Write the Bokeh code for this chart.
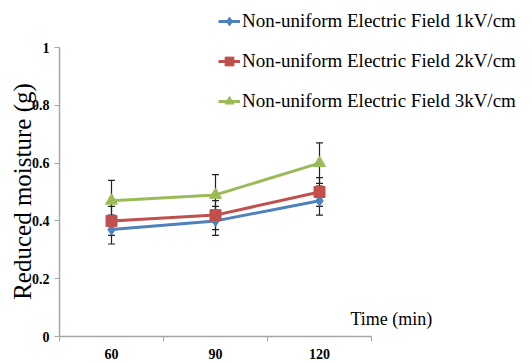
from math import pi
from bokeh.plotting import figure
from bokeh.models import (Range1d, FixedTicker, Label, Legend, LegendItem,
                          ColumnDataSource, Whisker, TeeHead, LinearAxis)
from bokeh.embed import file_html
from bokeh.resources import INLINE

# ---- data ----
times = ["60", "90", "120"]
field_1kv = [0.37, 0.40, 0.47]
field_2kv = [0.40, 0.42, 0.50]
field_3kv = [0.47, 0.49, 0.60]
err_1kv = [0.05, 0.05, 0.05]
err_2kv = [0.05, 0.05, 0.05]
err_3kv = [0.07, 0.07, 0.07]
series_names = ["Non-uniform Electric Field 1kV/cm",
                "Non-uniform Electric Field 2kV/cm",
                "Non-uniform Electric Field 3kV/cm"]
y_ticks = [0, 0.2, 0.4, 0.6, 0.8, 1.0]

colors = ["#4F81BD", "#C0504D", "#9BBB59"]
markers = ["diamond", "square", "triangle"]
sizes = [11, 11, 12]

W, H = 532, 363
# plot-area placement in pixels
PL, PR, PT, PB = 59, 371, 47, 336
ncat = len(times)
px_x = (PR - PL) / ncat
px_y = (PB - PT) / 1.0

xs = [i + 0.5 for i in range(ncat)]

p = figure(width=W, height=H, output_backend="svg", toolbar_location=None,
           x_range=Range1d(-PL / px_x, ncat + (W - PR) / px_x),
           y_range=Range1d(-(H - PB) / px_y, 1 + PT / px_y),
           x_axis_location=None, y_axis_location=None,
           min_border=0)
p.outline_line_color = None
p.xgrid.visible = False
p.ygrid.visible = False
p.background_fill_color = "white"
p.border_fill_color = "white"

axis_color = "#A6A6A6"
FONT = "Liberation Serif"
QFONT = "'Liberation Serif', serif"

xaxis = LinearAxis(fixed_location=0, bounds=(0, ncat))
xaxis.ticker = FixedTicker(ticks=xs, minor_ticks=list(range(ncat + 1)))
xaxis.major_label_overrides = {x: t for x, t in zip(xs, times)}
xaxis.major_tick_out = 0
xaxis.major_tick_in = 0
xaxis.minor_tick_out = 5
xaxis.minor_tick_in = 0
xaxis.minor_tick_line_color = axis_color
xaxis.axis_line_color = axis_color
xaxis.axis_line_width = 1.5
xaxis.major_label_text_font = QFONT
xaxis.major_label_text_font_style = "bold"
xaxis.major_label_text_font_size = "14px"
xaxis.major_label_text_color = "black"
xaxis.major_label_standoff = 7
p.add_layout(xaxis, "below")

yaxis = LinearAxis(fixed_location=0, bounds=(0, 1))
yaxis.ticker = FixedTicker(ticks=y_ticks, minor_ticks=[])
yaxis.major_label_overrides = {0: "0", 1: "1"}
yaxis.major_tick_out = 5
yaxis.major_tick_in = 0
yaxis.major_tick_line_color = axis_color
yaxis.axis_line_color = axis_color
yaxis.axis_line_width = 1.5
yaxis.major_label_text_font = QFONT
yaxis.major_label_text_font_style = "bold"
yaxis.major_label_text_font_size = "14px"
yaxis.major_label_text_color = "black"
yaxis.major_label_standoff = 5
p.add_layout(yaxis, "left")

items = []
for vals, errs, c, m, s, name in zip([field_1kv, field_2kv, field_3kv],
                                      [err_1kv, err_2kv, err_3kv],
                                      colors, markers, sizes, series_names):
    src = ColumnDataSource(dict(x=xs, y=vals,
                                lo=[v - e for v, e in zip(vals, errs)],
                                hi=[v + e for v, e in zip(vals, errs)]))
    w = Whisker(source=src, base="x", lower="lo", upper="hi", dimension="height",
                line_color="#222222", line_width=1.2,
                upper_head=TeeHead(size=7, line_color="#222222", line_width=1.2),
                lower_head=TeeHead(size=7, line_color="#222222", line_width=1.2))
    p.add_layout(w)
    ln = p.line("x", "y", source=src, line_color=c, line_width=3)
    sc = p.scatter("x", "y", source=src, marker=m, size=s, fill_color=c,
                   line_color=c)
    items.append(LegendItem(label=name, renderers=[ln, sc]))

n_items = len(items)
leg_h = n_items * 22 + (n_items - 1) * 18
legend = Legend(items=items, location=(218, H - 10 - leg_h), margin=0, padding=0,
                glyph_width=22, glyph_height=22, label_height=22,
                label_standoff=2, spacing=18,
                label_text_font=QFONT, label_text_font_size="19px",
                label_text_color="black",
                border_line_alpha=0, background_fill_alpha=0)
p.add_layout(legend, "center")

p.add_layout(Label(x=22, y=H - 191, x_units="screen", y_units="screen",
                   text="Reduced moisture (g)", angle=pi / 2,
                   text_align="center", text_baseline="middle",
                   text_font=FONT, text_font_size="25px",
                   text_color="black"))
p.add_layout(Label(x=350, y=H - 318, x_units="screen", y_units="screen",
                   text="Time (min)", text_align="left", text_baseline="middle",
                   text_font=FONT, text_font_size="18px",
                   text_color="black"))

open("out.html", "w").write(file_html(p, INLINE))
